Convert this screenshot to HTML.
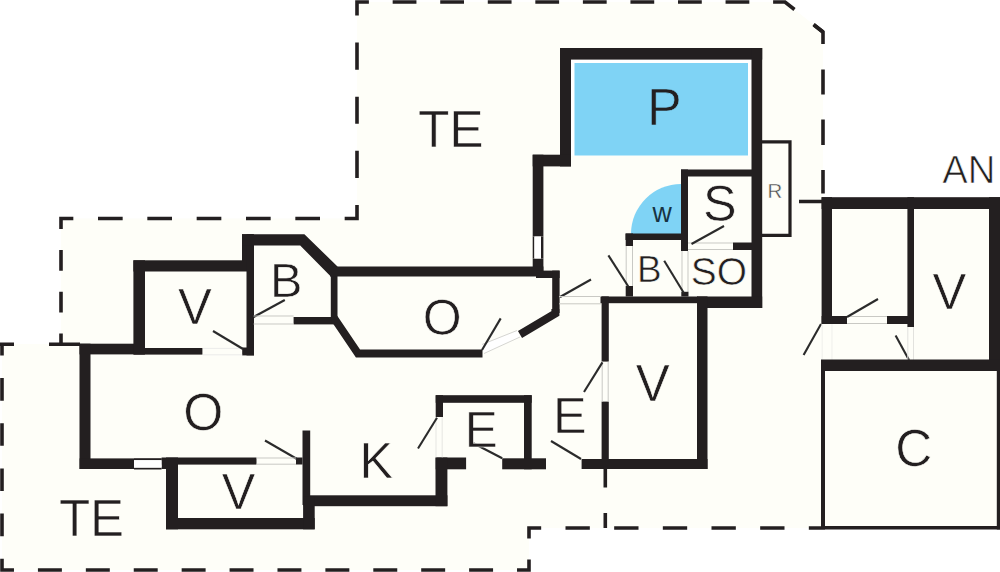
<!DOCTYPE html>
<html><head><meta charset="utf-8"><style>
html,body{margin:0;padding:0;background:#fff;}
svg{display:block;}
text{font-family:"Liberation Sans",sans-serif;}
</style></head><body>
<svg width="1000" height="572" viewBox="0 0 1000 572">
<rect width="1000" height="572" fill="#ffffff"/>
<polygon points="357.00,2.00 785.00,2.00 823.00,32.00 823.00,198.00 1000.00,198.00 1000.00,528.00 529.00,528.00 529.00,570.00 2.00,570.00 2.00,344.00 61.00,344.00 61.00,218.50 357.00,218.50" fill="#fefef8"/>
<path d="M61.00 344.00L61.00 333.54M61.00 312.62L61.00 291.71M61.00 270.79L61.00 249.88M61.00 228.96L61.00 218.50L73.33 218.50M98.00 218.50L122.67 218.50M147.33 218.50L172.00 218.50M196.67 218.50L221.33 218.50M246.00 218.50L270.67 218.50M295.33 218.50L320.00 218.50M344.67 218.50L357.00 218.50L357.00 204.97M357.00 177.91L357.00 150.84M357.00 123.78L357.00 96.72M357.00 69.66L357.00 42.59M357.00 15.53L357.00 2.00L368.89 2.00M392.67 2.00L416.44 2.00M440.22 2.00L464.00 2.00M487.78 2.00L511.56 2.00M535.33 2.00L559.11 2.00M582.89 2.00L606.67 2.00M630.44 2.00L654.22 2.00M678.00 2.00L701.78 2.00M725.56 2.00L749.33 2.00M773.11 2.00L785.00 2.00L794.50 9.50M813.50 24.50L823.00 32.00" stroke="#231f20" stroke-width="3.6" fill="none" stroke-linecap="butt" stroke-linejoin="miter"/>
<path d="M814.00 25.00L823.00 32.00L823.00 44.00M823.00 69.50L823.00 94.50M823.00 119.50L823.00 145.00M823.00 170.00L823.00 193.50M799.00 201.50L822.00 201.50" stroke="#231f20" stroke-width="3.6" fill="none" stroke-linecap="butt" stroke-linejoin="miter"/>
<path d="M0.00 344.20L14.00 344.20M49.00 344.20L80.00 344.20" stroke="#231f20" stroke-width="3.6" fill="none" stroke-linecap="butt" stroke-linejoin="miter"/>
<path d="M2.00 344.20L2.00 355.49M2.00 378.07L2.00 400.65M2.00 423.23L2.00 445.81M2.00 468.39L2.00 490.97M2.00 513.55L2.00 536.13M2.00 558.71L2.00 570.00L13.98 570.00M37.93 570.00L61.89 570.00M85.84 570.00L109.80 570.00M133.75 570.00L157.70 570.00M181.66 570.00L205.61 570.00M229.57 570.00L253.52 570.00M277.48 570.00L301.43 570.00M325.39 570.00L349.34 570.00M373.30 570.00L397.25 570.00M421.20 570.00L445.16 570.00M469.11 570.00L493.07 570.00M517.02 570.00L529.00 570.00L529.00 559.50M529.00 538.50L529.00 528.00L541.17 528.00M565.50 528.00L589.83 528.00M614.17 528.00L638.50 528.00M662.83 528.00L687.17 528.00M711.50 528.00L735.83 528.00M760.17 528.00L784.50 528.00M808.83 528.00L821.00 528.00" stroke="#231f20" stroke-width="3.6" fill="none" stroke-linecap="butt" stroke-linejoin="miter"/>
<path d="M605.30 469.00L605.30 487.50M605.30 513.00L605.30 528.00" stroke="#231f20" stroke-width="3.6" fill="none" stroke-linecap="butt" stroke-linejoin="miter"/>
<rect x="571.00" y="59.60" width="180.50" height="95.90" fill="#ffffff"/>
<rect x="574.50" y="63.00" width="173.50" height="92.50" fill="#7fd3f5"/>
<rect x="560.00" y="48.00" width="202.20" height="11.60" fill="#231f20"/>
<rect x="560.00" y="48.00" width="11.00" height="118.40" fill="#231f20"/>
<rect x="532.70" y="154.70" width="38.30" height="11.70" fill="#231f20"/>
<rect x="532.70" y="154.70" width="10.70" height="81.80" fill="#231f20"/>
<rect x="532.70" y="258.50" width="10.70" height="17.50" fill="#231f20"/>
<rect x="532.70" y="236.50" width="1.70" height="22.00" fill="#231f20"/>
<rect x="541.00" y="236.50" width="2.40" height="22.00" fill="#231f20"/>
<rect x="534.40" y="236.50" width="6.60" height="22.00" fill="#ffffff"/>
<rect x="751.50" y="48.00" width="10.70" height="260.00" fill="#231f20"/>
<polyline points="762.00,141.80 790.00,141.80 790.00,235.40 762.00,235.40" fill="none" stroke="#231f20" stroke-width="3.2" stroke-linejoin="miter" stroke-linecap="butt"/>
<rect x="681.00" y="169.50" width="71.00" height="7.00" fill="#231f20"/>
<rect x="681.00" y="169.50" width="7.00" height="81.50" fill="#231f20"/>
<rect x="733.00" y="242.50" width="19.00" height="7.50" fill="#231f20"/>
<line x1="688.00" y1="243.00" x2="733.00" y2="243.00" stroke="#c9c9c4" stroke-width="1" stroke-linecap="butt"/>
<line x1="688.00" y1="249.50" x2="733.00" y2="249.50" stroke="#c9c9c4" stroke-width="1" stroke-linecap="butt"/>
<line x1="691.50" y1="244.00" x2="724.00" y2="226.00" stroke="#2b2b2b" stroke-width="2.1" stroke-linecap="butt"/>
<path d="M631 234 A50 50 0 0 1 681 184 L681 234 Z" fill="#7fd3f5"/>
<rect x="625.50" y="233.50" width="55.50" height="6.50" fill="#231f20"/>
<rect x="625.70" y="233.50" width="7.30" height="12.50" fill="#231f20"/>
<line x1="626.20" y1="246.00" x2="626.20" y2="286.00" stroke="#c9c9c4" stroke-width="1" stroke-linecap="butt"/>
<line x1="632.50" y1="246.00" x2="632.50" y2="286.00" stroke="#c9c9c4" stroke-width="1" stroke-linecap="butt"/>
<rect x="625.70" y="286.00" width="7.30" height="10.50" fill="#231f20"/>
<line x1="608.40" y1="255.40" x2="628.50" y2="286.80" stroke="#2b2b2b" stroke-width="2.1" stroke-linecap="butt"/>
<line x1="682.00" y1="251.00" x2="682.00" y2="292.00" stroke="#c9c9c4" stroke-width="1" stroke-linecap="butt"/>
<line x1="688.00" y1="251.00" x2="688.00" y2="292.00" stroke="#c9c9c4" stroke-width="1" stroke-linecap="butt"/>
<rect x="681.30" y="291.80" width="7.20" height="4.70" fill="#231f20"/>
<line x1="664.20" y1="260.80" x2="684.00" y2="293.20" stroke="#2b2b2b" stroke-width="2.1" stroke-linecap="butt"/>
<rect x="600.50" y="296.50" width="97.00" height="6.70" fill="#231f20"/>
<rect x="697.00" y="296.50" width="65.20" height="11.50" fill="#231f20"/>
<rect x="601.60" y="296.40" width="7.20" height="65.20" fill="#231f20"/>
<rect x="601.60" y="401.60" width="7.20" height="67.40" fill="#231f20"/>
<line x1="602.20" y1="361.60" x2="602.20" y2="401.60" stroke="#c9c9c4" stroke-width="1" stroke-linecap="butt"/>
<line x1="608.20" y1="361.60" x2="608.20" y2="401.60" stroke="#c9c9c4" stroke-width="1" stroke-linecap="butt"/>
<line x1="584.00" y1="392.00" x2="602.40" y2="362.40" stroke="#2b2b2b" stroke-width="2.1" stroke-linecap="butt"/>
<rect x="697.00" y="296.40" width="10.50" height="172.60" fill="#231f20"/>
<rect x="581.60" y="459.00" width="125.90" height="10.00" fill="#231f20"/>
<line x1="551.00" y1="441.00" x2="581.00" y2="459.00" stroke="#2b2b2b" stroke-width="2.1" stroke-linecap="butt"/>
<rect x="435.70" y="395.20" width="96.00" height="7.60" fill="#231f20"/>
<rect x="524.00" y="395.20" width="7.70" height="74.10" fill="#231f20"/>
<rect x="435.70" y="395.20" width="7.30" height="21.80" fill="#231f20"/>
<rect x="435.70" y="457.50" width="30.40" height="11.80" fill="#231f20"/>
<rect x="502.20" y="458.30" width="43.80" height="11.00" fill="#231f20"/>
<line x1="471.00" y1="442.00" x2="502.20" y2="458.30" stroke="#2b2b2b" stroke-width="2.1" stroke-linecap="butt"/>
<line x1="436.00" y1="417.00" x2="436.00" y2="458.00" stroke="#e6e6e2" stroke-width="1" stroke-linecap="butt"/>
<line x1="442.20" y1="417.00" x2="442.20" y2="458.00" stroke="#e6e6e2" stroke-width="1" stroke-linecap="butt"/>
<line x1="418.00" y1="448.50" x2="437.00" y2="417.80" stroke="#2b2b2b" stroke-width="2.1" stroke-linecap="butt"/>
<rect x="303.50" y="495.30" width="143.90" height="10.90" fill="#231f20"/>
<rect x="435.50" y="457.50" width="11.90" height="48.70" fill="#231f20"/>
<rect x="302.50" y="430.50" width="7.70" height="74.50" fill="#231f20"/>
<rect x="161.60" y="457.50" width="94.90" height="7.10" fill="#231f20"/>
<rect x="166.00" y="457.50" width="12.00" height="71.80" fill="#231f20"/>
<rect x="166.00" y="518.00" width="148.70" height="11.30" fill="#231f20"/>
<rect x="303.10" y="496.40" width="11.60" height="32.90" fill="#231f20"/>
<rect x="296.00" y="457.50" width="6.50" height="7.00" fill="#231f20"/>
<line x1="265.00" y1="440.50" x2="297.00" y2="459.00" stroke="#2b2b2b" stroke-width="2.1" stroke-linecap="butt"/>
<line x1="256.50" y1="458.00" x2="296.00" y2="458.00" stroke="#c9c9c4" stroke-width="1" stroke-linecap="butt"/>
<line x1="256.50" y1="464.20" x2="296.00" y2="464.20" stroke="#c9c9c4" stroke-width="1" stroke-linecap="butt"/>
<rect x="79.50" y="343.70" width="65.30" height="10.70" fill="#231f20"/>
<rect x="79.50" y="343.70" width="11.00" height="125.30" fill="#231f20"/>
<rect x="79.60" y="458.40" width="54.40" height="10.60" fill="#231f20"/>
<rect x="161.60" y="458.40" width="16.40" height="10.60" fill="#231f20"/>
<rect x="134.00" y="458.20" width="27.60" height="2.00" fill="#231f20"/>
<rect x="134.00" y="467.60" width="27.60" height="1.90" fill="#231f20"/>
<rect x="134.00" y="460.20" width="27.60" height="7.40" fill="#ffffff"/>
<rect x="133.40" y="260.30" width="120.20" height="11.20" fill="#231f20"/>
<rect x="133.40" y="260.30" width="11.60" height="94.10" fill="#231f20"/>
<rect x="133.60" y="348.00" width="68.80" height="6.60" fill="#231f20"/>
<rect x="242.00" y="234.20" width="11.50" height="36.80" fill="#231f20"/>
<rect x="246.50" y="234.20" width="7.50" height="121.20" fill="#231f20"/>
<rect x="242.20" y="347.50" width="11.80" height="7.90" fill="#231f20"/>
<line x1="203.00" y1="348.40" x2="242.20" y2="348.40" stroke="#ececea" stroke-width="1" stroke-linecap="butt"/>
<line x1="203.00" y1="354.80" x2="242.20" y2="354.80" stroke="#ececea" stroke-width="1" stroke-linecap="butt"/>
<line x1="213.00" y1="331.00" x2="243.00" y2="349.00" stroke="#2b2b2b" stroke-width="2.1" stroke-linecap="butt"/>
<polygon points="242.00,234.20 304.40,234.20 337.50,266.50 337.50,320.00 330.80,320.00 330.80,276.50 300.20,245.50 242.00,245.50" fill="#231f20"/>
<rect x="293.60" y="317.00" width="43.90" height="7.40" fill="#231f20"/>
<line x1="253.60" y1="317.00" x2="284.80" y2="300.00" stroke="#2b2b2b" stroke-width="2.1" stroke-linecap="butt"/>
<line x1="253.60" y1="316.00" x2="293.60" y2="316.00" stroke="#c9c9c4" stroke-width="1" stroke-linecap="butt"/>
<line x1="253.60" y1="324.00" x2="293.60" y2="324.00" stroke="#c9c9c4" stroke-width="1" stroke-linecap="butt"/>
<rect x="330.00" y="266.50" width="213.40" height="10.00" fill="#231f20"/>
<rect x="536.00" y="270.60" width="23.60" height="7.40" fill="#231f20"/>
<rect x="552.20" y="270.60" width="7.40" height="42.40" fill="#231f20"/>
<polyline points="555.40,309.00 555.40,313.50 520.00,334.50" fill="none" stroke="#231f20" stroke-width="8" stroke-linejoin="miter" stroke-linecap="butt"/>
<polyline points="334.00,318.00 358.00,353.50 482.50,353.50" fill="none" stroke="#231f20" stroke-width="7.8" stroke-linejoin="miter" stroke-linecap="butt"/>
<polygon points="482.00,344.50 517.00,330.50 520.00,337.00 484.00,353.50" fill="#ffffff"/>
<line x1="482.00" y1="344.50" x2="517.00" y2="330.50" stroke="#d6d6d2" stroke-width="1" stroke-linecap="butt"/>
<line x1="484.00" y1="353.50" x2="520.00" y2="337.00" stroke="#d6d6d2" stroke-width="1" stroke-linecap="butt"/>
<line x1="482.00" y1="350.00" x2="500.70" y2="318.40" stroke="#2b2b2b" stroke-width="2.1" stroke-linecap="butt"/>
<line x1="560.00" y1="297.00" x2="591.00" y2="279.50" stroke="#2b2b2b" stroke-width="2.1" stroke-linecap="butt"/>
<line x1="559.00" y1="296.50" x2="601.00" y2="296.50" stroke="#c9c9c4" stroke-width="1" stroke-linecap="butt"/>
<line x1="559.00" y1="303.80" x2="601.00" y2="303.80" stroke="#c9c9c4" stroke-width="1" stroke-linecap="butt"/>
<rect x="821.60" y="197.20" width="178.40" height="11.80" fill="#231f20"/>
<rect x="821.60" y="197.20" width="10.40" height="126.80" fill="#231f20"/>
<rect x="907.40" y="197.20" width="6.60" height="129.80" fill="#231f20"/>
<rect x="989.00" y="197.20" width="11.00" height="173.80" fill="#231f20"/>
<rect x="821.60" y="316.00" width="25.40" height="8.00" fill="#231f20"/>
<rect x="887.00" y="316.00" width="27.00" height="8.00" fill="#231f20"/>
<line x1="847.00" y1="316.50" x2="887.00" y2="316.50" stroke="#c9c9c4" stroke-width="1" stroke-linecap="butt"/>
<line x1="847.00" y1="323.50" x2="887.00" y2="323.50" stroke="#c9c9c4" stroke-width="1" stroke-linecap="butt"/>
<line x1="847.00" y1="317.00" x2="878.00" y2="299.00" stroke="#2b2b2b" stroke-width="2.1" stroke-linecap="butt"/>
<line x1="821.00" y1="324.00" x2="803.60" y2="355.00" stroke="#2b2b2b" stroke-width="2.1" stroke-linecap="butt"/>
<line x1="895.60" y1="335.60" x2="909.00" y2="360.00" stroke="#2b2b2b" stroke-width="2.1" stroke-linecap="butt"/>
<line x1="907.80" y1="327.00" x2="907.80" y2="360.00" stroke="#e2e2de" stroke-width="1" stroke-linecap="butt"/>
<line x1="913.50" y1="327.00" x2="913.50" y2="360.00" stroke="#e2e2de" stroke-width="1" stroke-linecap="butt"/>
<line x1="822.20" y1="324.00" x2="822.20" y2="360.00" stroke="#efefeb" stroke-width="1" stroke-linecap="butt"/>
<line x1="832.00" y1="324.00" x2="832.00" y2="360.00" stroke="#efefeb" stroke-width="1" stroke-linecap="butt"/>
<rect x="821.00" y="359.50" width="179.00" height="11.50" fill="#231f20"/>
<rect x="821.00" y="371.00" width="4.00" height="158.50" fill="#231f20"/>
<rect x="821.00" y="526.00" width="179.00" height="3.50" fill="#231f20"/>
<rect x="996.80" y="371.00" width="3.20" height="158.50" fill="#231f20"/>
<text x="417.88" y="147.21" font-size="51.48" fill="#231f20" stroke="#fefef8" stroke-width="0.6">TE</text>
<text x="646.90" y="125.38" font-size="51.99" fill="#231f20" stroke="#7fd3f5" stroke-width="0.6">P</text>
<text x="702.95" y="220.85" font-size="50.42" fill="#231f20" stroke="#fefef8" stroke-width="0.6">S</text>
<text x="652.49" y="221.91" font-size="26.72" fill="#173343">w</text>
<text x="767.44" y="198.34" font-size="20.47" fill="#4a4a4a" stroke="#fefef8" stroke-width="0.4">R</text>
<text x="942.17" y="183.45" font-size="38.23" fill="#231f20" stroke="#ffffff" stroke-width="0.7">AN</text>
<text x="269.97" y="296.58" font-size="48.63" fill="#231f20" stroke="#fefef8" stroke-width="0.6">B</text>
<text x="178.06" y="324.47" font-size="50.78" fill="#231f20" stroke="#fefef8" stroke-width="0.6">V</text>
<text x="422.74" y="335.23" font-size="50.06" fill="#231f20" stroke="#fefef8" stroke-width="0.6">O</text>
<text x="637.01" y="282.24" font-size="36.88" fill="#231f20" stroke="#fefef8" stroke-width="0.6">B</text>
<text x="690.86" y="285.23" font-size="38.88" fill="#231f20" stroke="#fefef8" stroke-width="0.6">SO</text>
<text x="932.41" y="308.63" font-size="50.66" fill="#231f20" stroke="#fefef8" stroke-width="0.6">V</text>
<text x="183.28" y="430.13" font-size="51.52" fill="#231f20" stroke="#fefef8" stroke-width="0.6">O</text>
<text x="635.64" y="400.75" font-size="51.01" fill="#231f20" stroke="#fefef8" stroke-width="0.6">V</text>
<text x="553.01" y="432.78" font-size="50.39" fill="#231f20" stroke="#fefef8" stroke-width="0.6">E</text>
<text x="464.73" y="446.92" font-size="49.64" fill="#231f20" stroke="#fefef8" stroke-width="0.6">E</text>
<text x="359.61" y="477.89" font-size="50.40" fill="#231f20" stroke="#fefef8" stroke-width="0.6">K</text>
<text x="895.20" y="466.31" font-size="51.16" fill="#231f20" stroke="#fefef8" stroke-width="0.6">C</text>
<text x="221.84" y="509.34" font-size="50.27" fill="#231f20" stroke="#fefef8" stroke-width="0.6">V</text>
<text x="58.90" y="535.87" font-size="51.07" fill="#231f20" stroke="#fefef8" stroke-width="0.6">TE</text>
</svg>
</body></html>
